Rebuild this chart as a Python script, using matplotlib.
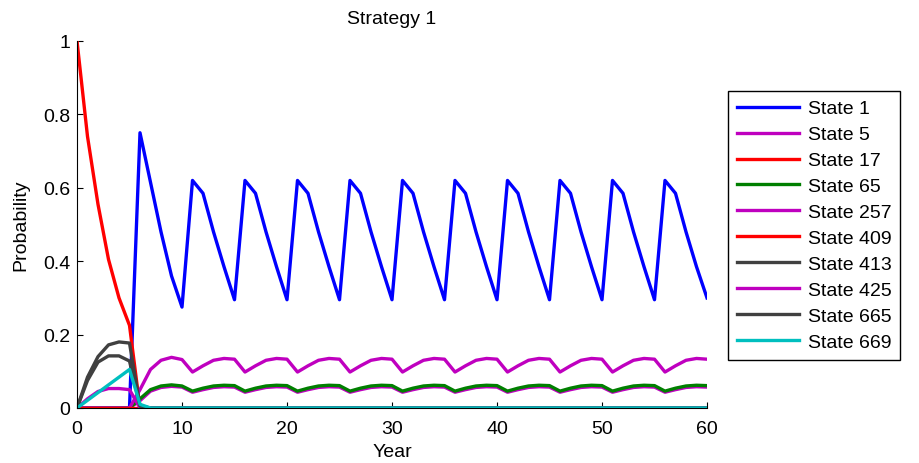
import matplotlib.pyplot as plt
import numpy as np

plt.rcParams["font.family"] = ["Liberation Sans", "DejaVu Sans"]

years = np.arange(61)

state_1 = [0, 0, 0, 0, 0, 0, 0.75, 0.615, 0.48, 0.36, 0.275,
           0.62, 0.585, 0.48, 0.385, 0.295, 0.62, 0.585, 0.48, 0.385, 0.295,
           0.62, 0.585, 0.48, 0.385, 0.295, 0.62, 0.585, 0.48, 0.385, 0.295,
           0.62, 0.585, 0.48, 0.385, 0.295, 0.62, 0.585, 0.48, 0.385, 0.295,
           0.62, 0.585, 0.48, 0.385, 0.295, 0.62, 0.585, 0.48, 0.385, 0.295,
           0.62, 0.585, 0.48, 0.385, 0.295, 0.62, 0.585, 0.48, 0.385, 0.30]
state_5 = [0, 0, 0, 0, 0, 0, 0.02, 0.046, 0.056, 0.059, 0.057,
           0.043, 0.05, 0.056, 0.058, 0.057, 0.043, 0.05, 0.056, 0.058, 0.057,
           0.043, 0.05, 0.056, 0.058, 0.057, 0.043, 0.05, 0.056, 0.058, 0.057,
           0.043, 0.05, 0.056, 0.058, 0.057, 0.043, 0.05, 0.056, 0.058, 0.057,
           0.043, 0.05, 0.056, 0.058, 0.057, 0.043, 0.05, 0.056, 0.058, 0.057,
           0.043, 0.05, 0.056, 0.058, 0.057, 0.043, 0.05, 0.056, 0.058, 0.057]
state_17 = [1.0, 0.74, 0.555, 0.405, 0.30, 0.225] + [0] * 55
state_65 = [0, 0, 0, 0, 0, 0, 0.025, 0.05, 0.06, 0.063, 0.06,
            0.046, 0.054, 0.06, 0.062, 0.061, 0.046, 0.054, 0.06, 0.062, 0.061,
            0.046, 0.054, 0.06, 0.062, 0.061, 0.046, 0.054, 0.06, 0.062, 0.061,
            0.046, 0.054, 0.06, 0.062, 0.061, 0.046, 0.054, 0.06, 0.062, 0.061,
            0.046, 0.054, 0.06, 0.062, 0.061, 0.046, 0.054, 0.06, 0.062, 0.061,
            0.046, 0.054, 0.06, 0.062, 0.061, 0.046, 0.054, 0.06, 0.062, 0.061]
state_257 = [0, 0, 0, 0, 0, 0, 0.05, 0.105, 0.13, 0.138, 0.132,
             0.098, 0.115, 0.13, 0.135, 0.133, 0.098, 0.115, 0.13, 0.135, 0.133,
             0.098, 0.115, 0.13, 0.135, 0.133, 0.098, 0.115, 0.13, 0.135, 0.133,
             0.098, 0.115, 0.13, 0.135, 0.133, 0.098, 0.115, 0.13, 0.135, 0.133,
             0.098, 0.115, 0.13, 0.135, 0.133, 0.098, 0.115, 0.13, 0.135, 0.133,
             0.098, 0.115, 0.13, 0.135, 0.133, 0.098, 0.115, 0.13, 0.135, 0.133]
state_409 = [0] * 61
state_413 = [0, 0.084, 0.14, 0.172, 0.18, 0.177, 0.005] + [0] * 54
state_425 = [0, 0.025, 0.045, 0.053, 0.053, 0.05, 0.0] + [0] * 54
state_665 = [0, 0.075, 0.125, 0.142, 0.142, 0.128, 0.005] + [0] * 54
state_669 = [0, 0.021, 0.042, 0.063, 0.084, 0.105, 0.01] + [0] * 54

series = [state_1, state_5, state_17, state_65, state_257,
          state_409, state_413, state_425, state_665, state_669]
labels = ["State 1", "State 5", "State 17", "State 65", "State 257",
          "State 409", "State 413", "State 425", "State 665", "State 669"]
colors = ["#0000ff", "#bf00bf", "#ff0000", "#007f00", "#bf00bf",
          "#ff0000", "#404040", "#bf00bf", "#404040", "#00bfbf"]

fig = plt.figure(figsize=(9.2, 4.64), dpi=100)
ax = fig.add_axes([77 / 920, 55 / 464, 630 / 920, 367 / 464])

for vals, lab, col in zip(series, labels, colors):
    ax.plot(years, vals, color=col, linewidth=2.4, label=lab)

ax.set_xlim(0, 60)
ax.set_ylim(0, 1)
ax.set_xticks(range(0, 61, 10))
ax.set_yticks([0, 0.2, 0.4, 0.6, 0.8, 1])
ax.set_yticklabels(["0", "0.2", "0.4", "0.6", "0.8", "1"])
ax.spines["top"].set_visible(False)
ax.spines["right"].set_visible(False)
ax.tick_params(direction="in", length=4.5, labelsize=14)
ax.tick_params(axis="x", pad=9)
ax.tick_params(axis="y", pad=5)
ax.set_title("Strategy 1", fontsize=14, pad=13)
ax.set_xlabel("Year", fontsize=14, labelpad=4)
ax.set_ylabel("Probability", fontsize=14, labelpad=10)

leg = ax.legend(loc="upper left", bbox_to_anchor=(728 / 920, 1 - 92 / 464),
                bbox_transform=fig.transFigure, borderaxespad=0,
                fancybox=False, fontsize=14, handlelength=3.2,
                handletextpad=0.45, labelspacing=0.43, borderpad=0.45,
                edgecolor="black", framealpha=1)
leg.get_frame().set_linewidth(1.0)

fig.savefig("out.png", dpi=100)
